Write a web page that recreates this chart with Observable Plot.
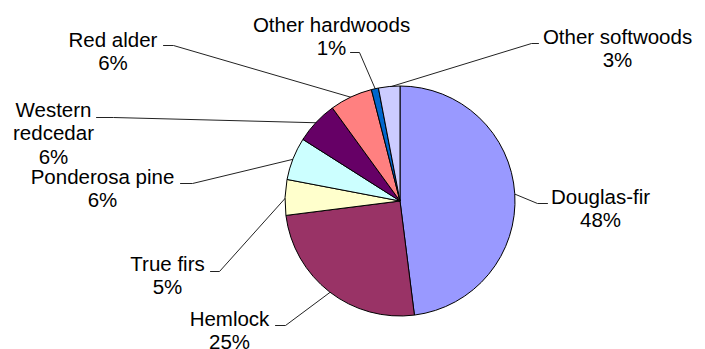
<!DOCTYPE html>
<html><head><meta charset="utf-8">
<script src="https://cdn.jsdelivr.net/npm/d3@7"></script>
<script src="https://cdn.jsdelivr.net/npm/@observablehq/plot@0.6"></script>
<style>
html,body{margin:0;padding:0;background:#fff;}
</style>
</head><body><div id="chart"></div>
<script>
// ---- data ----
const species = ["Douglas-fir","Hemlock","True firs","Ponderosa pine","Western redcedar","Red alder","Other hardwoods","Other softwoods"];
const shares = [48,25,5,6,6,6,1,3];
const colors = ["#9999FF","#993366","#FFFFCC","#CCFFFF","#660066","#FF8080","#0066CC","#CCCCFF"];

// ---- layout (pixels) ----
const W = 705, H = 349;
const pieGeom = {cx: 400, cy: 201, r: 115};
const FS = 20.5, LH = 1.15;
const labelX = [600, 229, 167, 102, 53, 112.5, 331, 617];
const labelY = [203, 325, 270, 183, 116, 46, 31, 43];      // first-line baseline
const wrapName = [false, false, false, false, true, false, false, false];
const leadTx = [547, 275, 210, 180, 96, 163, 350, 538];   // dash start next to text
const leadEx = [537, 285, 219, 192, 113, 173, 359, 531];  // elbow
const leadY  = [203, 325, 271, 183, 117, 45, 52, 43];

// ---- derived ----
const arcs = d3.pie().sort(null).startAngle(0).endAngle(2 * Math.PI)(shares);
const rows = species.map((s, i) => {
  const a = (arcs[i].startAngle + arcs[i].endAngle) / 2;
  const name = wrapName[i] ? s.replace(" ", "\n") : s;
  const text = name + "\n" + shares[i] + "%";
  const n = text.split("\n").length;
  return {
    species: s, share: shares[i], text,
    tx: labelX[i], ty: labelY[i] + (n - 1) * LH * FS,
    px: pieGeom.cx + pieGeom.r * Math.sin(a),
    py: pieGeom.cy - pieGeom.r * Math.cos(a)
  };
});
const leaders = rows.flatMap((d, i) => [
  {id: i, x: leadTx[i], y: leadY[i]},
  {id: i, x: leadEx[i], y: leadY[i]},
  {id: i, x: d.px, y: d.py}
]);

function pieMark(index, scales) {
  const {x, y} = scales;
  const cx = x(pieGeom.cx), cy = y(pieGeom.cy);
  const rr = x(pieGeom.cx + pieGeom.r) - x(pieGeom.cx);
  const arc = d3.arc().innerRadius(0).outerRadius(rr);
  const g = d3.create("svg:g").attr("transform", `translate(${cx},${cy})`);
  g.selectAll("path").data(arcs).join("path")
    .attr("d", arc)
    .attr("fill", (d, i) => colors[i])
    .attr("stroke", "#000")
    .attr("stroke-width", 1)
    .attr("stroke-linejoin", "round");
  return g.node();
}

const chart = Plot.plot({
  width: W, height: H,
  margin: 0,
  style: {background: "#fff", fontFamily: "'Liberation Sans', Arial, sans-serif", color: "#000"},
  x: {domain: [0, W], range: [0, W], axis: null},
  y: {domain: [0, H], range: [0, H], axis: null},
  marks: [
    Plot.line(leaders, {x: "x", y: "y", z: "id", stroke: "#222", strokeWidth: 1}),
    pieMark,
    Plot.text(rows, {x: "tx", y: "ty", text: "text", fontSize: FS, lineHeight: LH,
      lineAnchor: "bottom", textAnchor: "middle", fill: "#000"})
  ]
});
document.getElementById("chart").appendChild(chart);
</script>
</body></html>
